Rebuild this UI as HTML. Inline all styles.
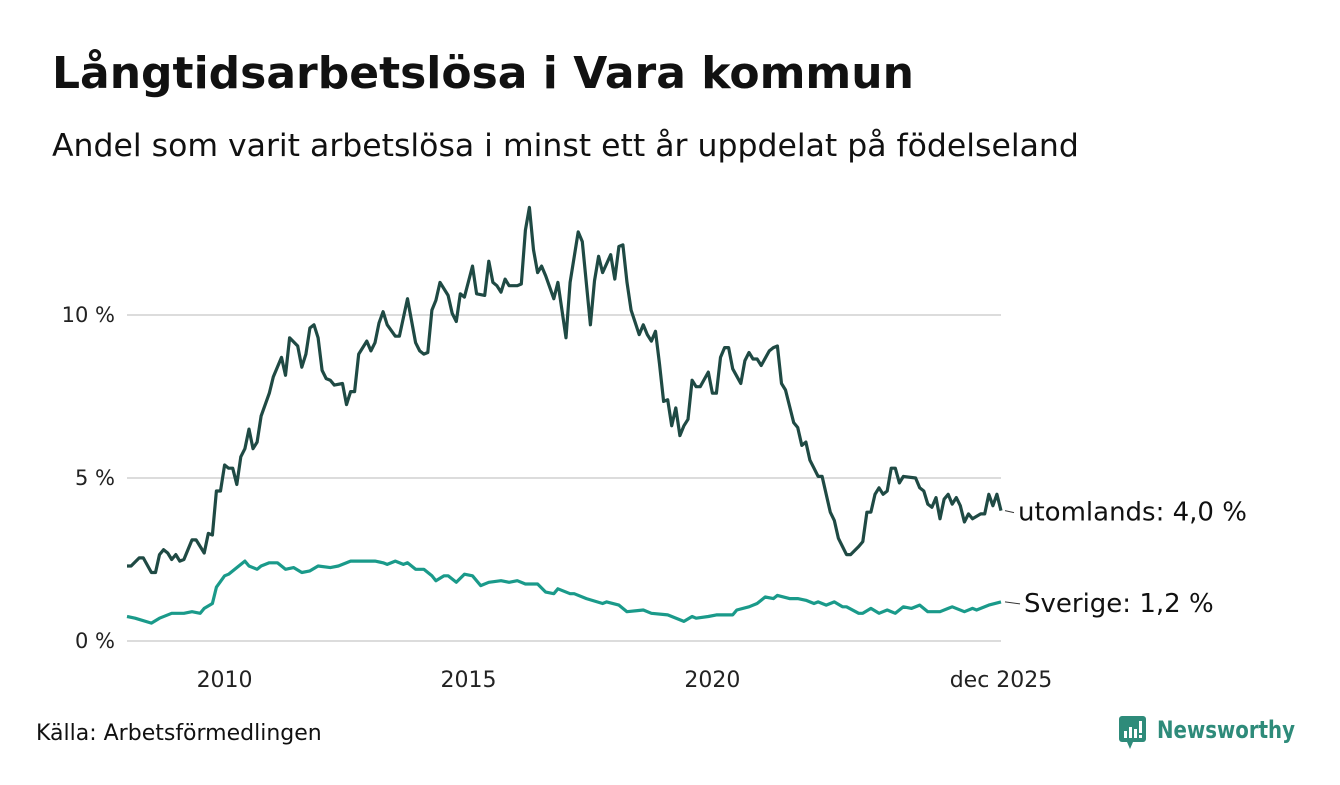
<!DOCTYPE html>
<html><head><meta charset="utf-8">
<style>
html,body{margin:0;padding:0;background:#fff;}
body{width:1340px;height:780px;overflow:hidden;font-family:"Liberation Sans","DejaVu Sans",sans-serif;}
svg text{font-family:"DejaVu Sans","Liberation Sans",sans-serif;}
</style></head>
<body>
<svg id="chart" width="1340" height="780" viewBox="0 0 1340 780" xmlns="http://www.w3.org/2000/svg">
<text x="52" y="88" font-size="44" font-weight="bold" fill="#111">Långtidsarbetslösa i Vara kommun</text>
<text x="52" y="156" font-size="31.5" fill="#111">Andel som varit arbetslösa i minst ett år uppdelat på födelseland</text>
<g id="grid"></g>
<g id="yaxis"></g>
<g id="xaxis"></g>
<g id="series"></g>
<text x="36" y="740" font-size="22" fill="#111">Källa: Arbetsförmedlingen</text>
<g>
<rect x="1119" y="716" width="27" height="26" rx="3" fill="#2e8b7a"/>
<polygon points="1127,742 1133,742 1130,749" fill="#2e8b7a"/>
<rect x="1124" y="731" width="3" height="7" fill="#fff"/>
<rect x="1129" y="727" width="3" height="11" fill="#fff"/>
<rect x="1134" y="729" width="3" height="9" fill="#fff"/>
<rect x="1139" y="721" width="3" height="12" fill="#fff"/>
<rect x="1139" y="735" width="3" height="3" fill="#fff"/>
<text x="1157" y="738" font-size="24" font-weight="bold" fill="#2e8b7a" textLength="138" lengthAdjust="spacingAndGlyphs">Newsworthy</text>
</g>
</svg>
<script>
// months since Jan 2008
const abroadMonths = [0,1,3,4,6,7,8,9,10,11,12,13,14,16,17,19,20,21,22,23,24,25,26,27,28,29,30,31,32,33,35,36,38,39,40,42,43,44,45,46,47,48,49,50,51,53,54,55,56,57,59,60,61,62,63,64,66,67,69,71,72,73,74,75,76,77,79,80,81,82,83,85,86,88,89,90,91,92,93,94,96,97,98,99,100,101,102,103,105,106,108,109,111,112,114,115,116,117,119,120,121,122,123,124,126,127,128,129,130,131,132,133,134,135,136,137,138,139,140,141,143,144,145,146,147,148,149,151,152,153,154,155,156,158,159,160,161,162,164,165,166,167,168,169,170,171,173,174,175,177,178,180,181,182,183,184,185,186,187,188,189,190,191,194,195,196,197,198,199,200,201,202,203,204,205,206,207,208,210,211,212,213,214,215];
const abroadValues = [2.3,2.3,2.55,2.55,2.1,2.1,2.65,2.8,2.7,2.5,2.65,2.45,2.5,3.1,3.1,2.7,3.3,3.25,4.6,4.6,5.4,5.3,5.3,4.8,5.65,5.9,6.5,5.9,6.1,6.9,7.6,8.1,8.7,8.15,9.3,9.05,8.4,8.8,9.6,9.7,9.3,8.3,8.05,8.0,7.85,7.9,7.25,7.65,7.65,8.8,9.2,8.9,9.15,9.75,10.1,9.7,9.35,9.35,10.5,9.15,8.9,8.8,8.85,10.15,10.45,11.0,10.6,10.05,9.8,10.65,10.55,11.5,10.65,10.6,11.65,11.0,10.9,10.7,11.1,10.9,10.9,10.95,12.6,13.3,12.0,11.3,11.5,11.2,10.5,11.0,9.3,11.0,12.55,12.25,9.7,11.05,11.8,11.3,11.85,11.1,12.1,12.15,11.0,10.15,9.4,9.7,9.4,9.2,9.5,8.5,7.35,7.4,6.6,7.15,6.3,6.6,6.8,8.0,7.8,7.8,8.25,7.6,7.6,8.7,9.0,9.0,8.35,7.9,8.6,8.85,8.65,8.65,8.45,8.9,9.0,9.05,7.9,7.7,6.7,6.55,6.0,6.1,5.55,5.3,5.05,5.05,3.95,3.7,3.15,2.65,2.65,2.9,3.05,3.95,3.95,4.5,4.7,4.5,4.6,5.3,5.3,4.85,5.05,5.0,4.7,4.6,4.2,4.1,4.4,3.75,4.35,4.5,4.2,4.4,4.15,3.65,3.9,3.75,3.9,3.9,4.5,4.15,4.5,4.0];
const swedenMonths = [0,2,6,8,11,14,16,18,19,21,22,24,25,27,29,30,32,33,35,37,39,41,43,45,47,50,52,55,57,61,63,64,66,68,69,71,73,75,76,78,79,81,83,85,87,89,92,94,96,98,101,103,105,106,109,110,113,117,118,121,123,127,129,133,137,139,140,143,145,149,150,153,155,157,159,160,163,165,167,169,170,172,174,176,177,180,181,183,185,187,189,191,193,195,197,200,202,203,206,208,209,212,215];
const swedenValues = [0.75,0.7,0.55,0.7,0.85,0.85,0.9,0.85,1.0,1.15,1.65,2.0,2.05,2.25,2.45,2.3,2.2,2.3,2.4,2.4,2.2,2.25,2.1,2.15,2.3,2.25,2.3,2.45,2.45,2.45,2.4,2.35,2.45,2.35,2.4,2.2,2.2,2.0,1.85,2.0,2.0,1.8,2.05,2.0,1.7,1.8,1.85,1.8,1.85,1.75,1.75,1.5,1.45,1.6,1.45,1.45,1.3,1.15,1.2,1.1,0.9,0.95,0.85,0.8,0.6,0.75,0.7,0.75,0.8,0.8,0.95,1.05,1.15,1.35,1.3,1.4,1.3,1.3,1.25,1.15,1.2,1.1,1.2,1.05,1.05,0.85,0.85,1.0,0.85,0.95,0.85,1.05,1.0,1.1,0.9,0.9,1.0,1.05,0.9,1.0,0.95,1.1,1.2];
const yTicks = [0,5,10];
const yTickLabels = ["0 %","5 %","10 %"];
const xTicks = [24,84,144,215];
const xTickLabels = ["2010","2015","2020","dec 2025"];
const seriesLabels = ["utomlands: 4,0 %","Sverige: 1,2 %"];

const NS="http://www.w3.org/2000/svg";
const X0=127, X1=1001, Y0=641, PX=32.6;
const xScale = m => X0 + m*(X1-X0)/215;
const yScale = v => Y0 - v*PX;
function mk(tag, attrs, parent){const e=document.createElementNS(NS,tag);for(const k in attrs)e.setAttribute(k,attrs[k]);parent.appendChild(e);return e;}
const grid=document.getElementById('grid'), ya=document.getElementById('yaxis'), xa=document.getElementById('xaxis'), sg=document.getElementById('series');
yTicks.forEach((t,i)=>{
  const l=mk('line',{x1:X0,x2:X1,y1:yScale(t),y2:yScale(t),stroke:'#dcdcdc','stroke-width':2},grid);
  
  
  const tx=mk('text',{x:115,y:yScale(t)+7,'text-anchor':'end','font-size':21,fill:'#222'},ya);
  tx.textContent=yTickLabels[i];
  
  
});
xTicks.forEach((m,i)=>{
  const tx=mk('text',{x:xScale(m),y:687,'text-anchor':'middle','font-size':22,fill:'#222'},xa);
  tx.textContent=xTickLabels[i];
  
  
});
function drawLine(ms, vs, color, name, label, lx){
  const d=ms.map((m,i)=>(i?'L':'M')+xScale(m).toFixed(1)+','+yScale(vs[i]).toFixed(1)).join(' ');
  const p=mk('path',{d:d,fill:'none',stroke:color,'stroke-width':3.2,'stroke-linejoin':'round'},sg);
  
  
  const last=vs[vs.length-1];
  const tick=mk('line',{x1:xScale(215)+4,x2:lx-4,y1:yScale(last),y2:yScale(last)+2,stroke:'#333','stroke-width':1},sg);
  
  
  const t=mk('text',{x:lx,y:yScale(last)+10,'font-size':26,fill:'#111'},sg);
  t.textContent=label;
  
  
}
drawLine(abroadMonths, abroadValues, '#1f4a44', 'utomlands', seriesLabels[0], 1018);
drawLine(swedenMonths, swedenValues, '#1a9a8a', 'sverige', seriesLabels[1], 1024);
</script>
</body></html>
